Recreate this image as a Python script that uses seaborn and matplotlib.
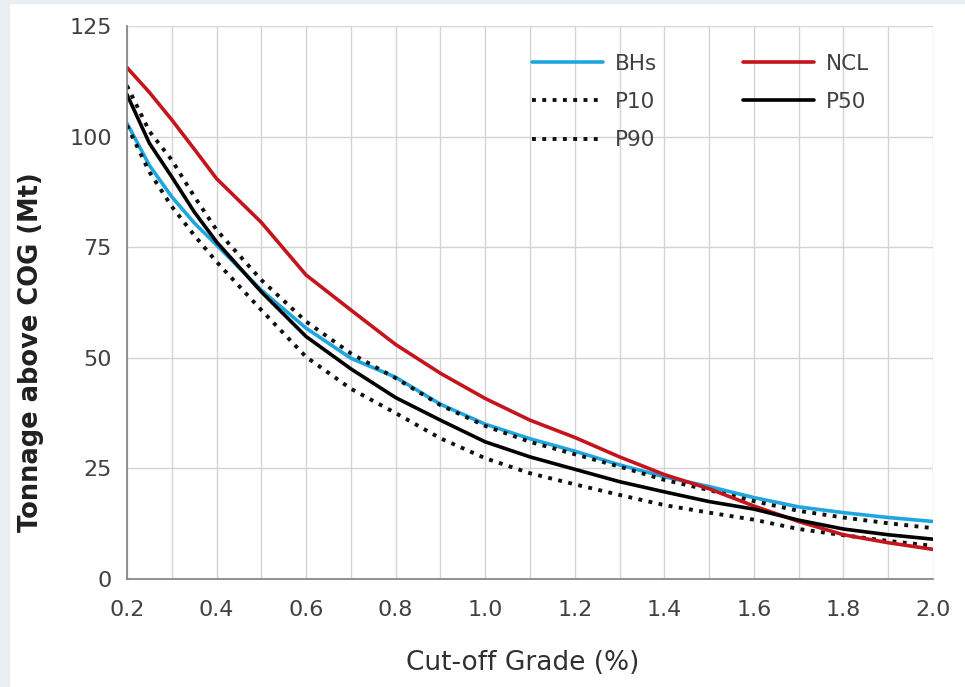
import numpy as np
import pandas as pd
import seaborn as sns
import matplotlib.pyplot as plt
from matplotlib.patches import Rectangle
from matplotlib.ticker import MultipleLocator

# cut-off grade (%)
cog = [0.2, 0.25, 0.3, 0.35, 0.4, 0.5, 0.6, 0.7, 0.8, 0.9, 1.0, 1.1,
       1.2, 1.3, 1.4, 1.5, 1.6, 1.7, 1.8, 1.9, 2.0]

# tonnage above COG (Mt)
bhs = [103.0, 93.5, 86.4, 80.5, 75.5, 65.3, 56.7, 49.9, 45.6, 39.5, 35.0, 31.7,
       28.9, 25.8, 23.1, 20.9, 18.4, 16.3, 15.0, 13.9, 13.0]
ncl = [115.6, 110.0, 103.8, 97.2, 90.5, 80.6, 68.7, 60.8, 53.0, 46.5, 40.8, 35.9,
       32.0, 27.6, 23.6, 20.4, 16.5, 13.0, 10.0, 8.2, 6.7]
p10 = [111.5, 101.2, 94.7, 86.5, 78.9, 67.6, 58.2, 51.0, 45.4, 39.3, 34.6, 31.0,
       28.2, 25.4, 22.4, 20.1, 17.6, 15.4, 13.9, 12.6, 11.5]
p50 = [109.5, 98.5, 90.9, 83.0, 76.2, 64.9, 54.8, 47.5, 41.0, 35.9, 31.0, 27.6,
       24.8, 22.0, 19.7, 17.5, 15.8, 13.3, 11.3, 10.0, 9.0]
p90 = [102.5, 92.0, 84.2, 77.7, 71.7, 60.8, 50.2, 43.0, 37.5, 31.8, 27.3, 23.9,
       21.4, 19.0, 16.7, 15.0, 13.4, 11.3, 9.9, 8.6, 7.5]

series_names = ['BHs', 'P10', 'P90', 'NCL', 'P50']
series_vals = [bhs, p10, p90, ncl, p50]
series_color = {'BHs': '#1fa6df', 'P10': '#111111', 'P90': '#111111',
                'NCL': '#c4141c', 'P50': '#000000'}
series_ls = {'BHs': '-', 'P10': ':', 'P90': ':', 'NCL': '-', 'P50': '-'}

df = pd.DataFrame({'cog': cog})
for name, vals in zip(series_names, series_vals):
    df[name] = vals

sns.set_style('white')
plt.rcParams['font.family'] = ['DejaVu Sans']

fig = plt.figure(figsize=(9.65, 6.87), dpi=100)
fig.patch.set_facecolor('white')
# light frame strip top/left like the screenshot
fig.patches.append(Rectangle((0, 0), 9 / 965, 1, transform=fig.transFigure,
                             color='#e8eef2', zorder=0))
fig.patches.append(Rectangle((0, 1 - 3 / 687), 1, 3 / 687, transform=fig.transFigure,
                             color='#e8eef2', zorder=0))

ax = fig.add_axes([127 / 965, 1 - 579 / 687, (933 - 127) / 965, (579 - 26) / 687])

for name in series_names:
    sns.lineplot(data=df, x='cog', y=name, ax=ax, color=series_color[name],
                 linestyle=series_ls[name], linewidth=2.6 if series_ls[name] == '-' else 2.8,
                 label=name)

ax.set_xlim(0.2, 2.0)
ax.set_ylim(0, 125)
ax.xaxis.set_major_locator(MultipleLocator(0.2))
ax.xaxis.set_minor_locator(MultipleLocator(0.1))
ax.yaxis.set_major_locator(MultipleLocator(25))
ax.xaxis.set_major_formatter(plt.FuncFormatter(lambda v, p: f'{v:.1f}'))

ax.grid(True, which='both', axis='x', color='#d4d4d4', linewidth=1.0)
ax.grid(True, which='major', axis='y', color='#d4d4d4', linewidth=1.0)
ax.set_axisbelow(True)

for side in ['top', 'right']:
    ax.spines[side].set_visible(False)
for side in ['left', 'bottom']:
    ax.spines[side].set_color('#7f7f7f')
    ax.spines[side].set_linewidth(1.2)

ax.tick_params(axis='both', which='major', direction='out', length=7, width=1.2,
               color='#7f7f7f', labelsize=16, labelcolor='#404040')
ax.tick_params(axis='x', which='major', pad=8)
ax.tick_params(axis='y', which='major', pad=4)
ax.tick_params(axis='x', which='minor', length=0)

ax.set_xlabel('Cut-off Grade (%)', fontsize=19, color='#303030')
ax.set_ylabel('Tonnage above COG (Mt)', fontsize=18.5, fontweight='bold',
              color='#202020')
ax.xaxis.set_label_coords(0.491, -0.128)
ax.yaxis.set_label_coords(-0.103, 0.41)

ax.legend(ncol=2, loc='upper left', bbox_to_anchor=(0.478, 0.985), frameon=False,
          fontsize=15.5, handlelength=3.3, handletextpad=0.55, columnspacing=4.0,
          labelspacing=0.85, labelcolor='#404040')

fig.savefig('out.png', dpi=100)
